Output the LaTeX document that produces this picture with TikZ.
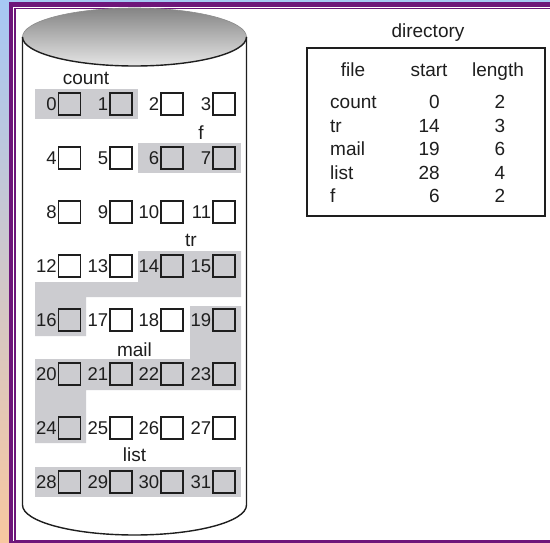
\documentclass[tikz,border=0pt]{standalone}
\usepackage{fontspec}
\setmainfont{Liberation Sans}
\definecolor{bandgray}{RGB}{204,204,208}
\definecolor{framepurple}{RGB}{110,22,122}
\definecolor{skyblue}{RGB}{166,200,244}
\definecolor{peach}{RGB}{248,200,160}
\definecolor{inkc}{RGB}{30,30,30}
\begin{document}
\begin{tikzpicture}[x=1pt,y=-1pt,
  cellbox/.style={draw=inkc, line width=1.3pt, minimum size=22pt, inner sep=0pt},
  num/.style={font=\fontsize{18.5}{20}\selectfont, inner sep=0pt, anchor=east, text=inkc},
  lbl/.style={font=\fontsize{19}{21}\selectfont, inner sep=0pt, anchor=base, text=inkc},
  band/.style={fill=bandgray},
  cyl/.style={draw=inkc, line width=1.4pt}]
\useasboundingbox (0,0) rectangle (550,543);
% background frame
\shade[top color=skyblue, bottom color=peach] (0,0) rectangle (550,543);
\fill[framepurple] (9,2.5) rectangle (550,543);
\fill[white] (13,6.7) rectangle (550,541);
\draw[framepurple, line width=1.4pt] (560,8.8) -- (15,8.8) -- (15,540.3) -- (560,540.3);
% cylinder
\draw[cyl] (22.5,37) -- (22.5,505) arc[start angle=180, end angle=360, x radius=112pt, y radius=30pt] -- (246.5,37);
\shade[top color=black!48, bottom color=black!10] (134.5,37) ellipse [x radius=112pt, y radius=29pt];
\draw[black!45, line width=0.6pt] (22.5,37) arc[start angle=180, end angle=0, x radius=112pt, y radius=29pt];
\draw[cyl] (22.5,37) arc[start angle=180, end angle=360, x radius=112pt, y radius=29pt];
% bands
\fill[band] (35,89) rectangle (138,119);
\fill[band] (138,143) rectangle (241,173);
\fill[band] (138,251) -- (241,251) -- (241,297) -- (86,297) -- (86,336) -- (35,336) -- (35,282) -- (138,282) -- cycle;
\fill[band] (190,306) -- (241,306) -- (241,390) -- (86,390) -- (86,443) -- (35,443) -- (35,359) -- (190,359) -- cycle;
\fill[band] (35,467) rectangle (241,497);
% cells
\foreach \r [count=\ri from 0] in {104,158,212,266,320,374,428,482} {
  \foreach \c [count=\ci from 0] in {69.5,121,172,224} {
    \pgfmathtruncatemacro\n{\ri*4+\ci}
    \node[cellbox] (b\n) at (\c,\r) {};
    \node[num] (l\n) at ([xshift=-1pt]b\n.west) {\n};
  }
}
% file labels
\node[lbl] (fcount) at (86,85) {count};
\node[lbl] (ff) at (201,140) {f};
\node[lbl] (ftr) at (191,247) {tr};
\node[lbl] (fmail) at (134.5,356) {mail};
\node[lbl] (flist) at (134.5,461) {list};
% directory
\node[lbl] (dirtitle) at (428,38) {directory};
\node[draw=inkc, line width=1.3pt, minimum width=238pt, minimum height=168pt, inner sep=0pt] (dir) at (426,132) {};
\node[lbl] (hfile) at (353,77) {file};
\node[lbl] (hstart) at (429,77) {start};
\node[lbl] (hlength) at (498,77) {length};
\foreach \f/\s/\l [count=\i] in {count/0/2, tr/14/3, mail/19/6, list/28/4, f/6/2} {
  \pgfmathsetmacro\yy{108.8+23.5*(\i-1)}
  \node[lbl, anchor=base west] (df\i) at (330,\yy) {\f};
  \node[lbl, anchor=base east] (ds\i) at (440,\yy) {\s};
  \node[lbl] (dl\i) at (500,\yy) {\l};
}
\end{tikzpicture}
\end{document}
